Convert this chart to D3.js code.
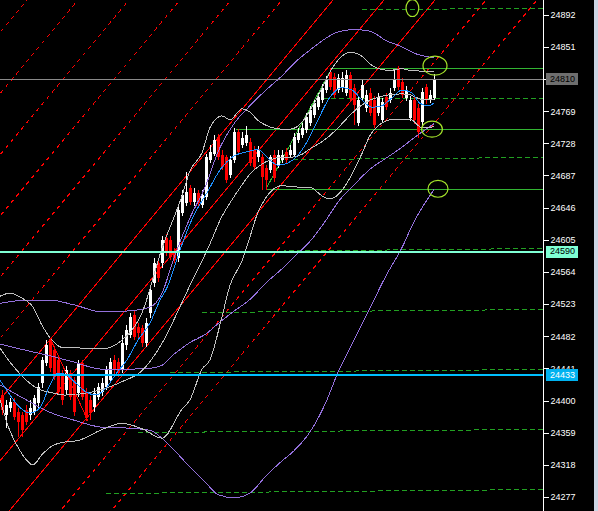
<!DOCTYPE html>
<html><head><meta charset="utf-8">
<script src="https://cdn.jsdelivr.net/npm/d3@7/dist/d3.min.js"></script>
<style>html,body{margin:0;padding:0;background:#000;overflow:hidden}svg{display:block}</style>
</head><body><svg id="c" width="598" height="511"></svg>
<script>
// ---------- DATA ----------
const open = [24407,24382,24390,24398,24385,24382,24388,24382,24385,24397,
24422,24448,24477,24464,24452,24435,24413,24435,24426,24410,
24448,24411,24401,24392,24404,24411,24417,24426,24452,24449,
24439,24471,24484,24509,24494,24492,24473,24512,24550,24575,
24575,24607,24605,24589,24582,24639,24652,24671,24653,24665,
24649,24660,24707,24715,24736,24713,24710,24688,24707,24742,
24726,24728,24730,24720,24710,24710,24697,24694,24713,24700,
24707,24717,24713,24713,24732,24739,24745,24754,24764,24774,
24783,24796,24819,24813,24796,24799,24792,24815,24799,24754,
24786,24773,24792,24783,24767,24758,24787,24783,24799,24824,
24806,24786,24760,24783,24773,24755,24800,24783,24786];
const close = [24388,24394,24398,24379,24373,24362,24373,24390,24403,24417,
24452,24471,24441,24430,24411,24401,24439,24404,24385,24448,
24404,24378,24384,24410,24417,24422,24439,24449,24439,24435,
24473,24490,24507,24481,24486,24473,24499,24541,24575,24556,
24605,24588,24583,24579,24643,24662,24666,24653,24665,24652,
24662,24711,24717,24732,24711,24698,24681,24707,24742,24717,
24735,24739,24703,24698,24720,24685,24681,24710,24684,24713,
24713,24707,24720,24736,24741,24748,24762,24770,24779,24787,
24799,24809,24800,24790,24811,24811,24815,24786,24777,24783,
24802,24790,24767,24751,24787,24781,24774,24792,24809,24800,
24790,24796,24783,24758,24742,24793,24783,24790,24810];
const high = [24413,24401,24403,24403,24390,24385,24394,24401,24407,24422,
24456,24477,24480,24470,24457,24439,24444,24439,24430,24452,
24452,24416,24406,24416,24422,24429,24444,24454,24458,24454,
24484,24496,24512,24515,24499,24496,24505,24546,24582,24582,
24610,24612,24610,24595,24649,24668,24691,24675,24671,24668,
24668,24715,24726,24739,24740,24720,24713,24712,24748,24746,
24742,24750,24735,24725,24724,24715,24700,24713,24720,24720,
24720,24722,24726,24741,24748,24754,24767,24776,24783,24792,
24804,24814,24824,24818,24816,24819,24822,24819,24804,24788,
24809,24796,24799,24788,24792,24786,24792,24799,24821,24827,
24811,24801,24788,24788,24778,24799,24804,24796,24816];
const low = [24382,24365,24385,24375,24354,24354,24369,24375,24382,24390,
24416,24444,24436,24426,24407,24394,24407,24401,24380,24404,
24401,24374,24375,24385,24401,24406,24413,24422,24434,24430,
24435,24464,24480,24477,24480,24468,24468,24505,24545,24551,
24569,24584,24579,24575,24577,24635,24648,24649,24648,24648,
24646,24656,24703,24712,24707,24694,24677,24684,24703,24713,
24722,24725,24699,24694,24704,24668,24668,24690,24679,24697,
24703,24703,24710,24710,24729,24735,24741,24750,24760,24770,
24779,24792,24796,24786,24792,24793,24788,24782,24751,24750,
24782,24768,24763,24747,24763,24754,24770,24779,24795,24796,
24786,24782,24756,24753,24735,24750,24778,24779,24783];

// Bollinger (gray)
const grayBars = [-0.5,2,4.5,7.75,10,12.5,15.5,19,25,30,35,40,45,47,50,52,55,57,60,62,64,70,72,75,77,80,82,85,87,90,92,95,97,100,102,105,108];
const grayUpper = [24533,24537,24532,24519,24496,24477,24467,24467,24466,24477,24512,24594,24661,24693,24716,24748,24763,24758,24772,24768,24757,24746,24746,24755,24770,24798,24819,24839,24844,24839,24829,24822,24821,24823,24821,24820,24819];
const grayMid = [24467,24449,24434,24419,24413,24410,24407,24408,24414,24424,24438,24473,24525,24547,24578,24600,24635,24652,24675,24689,24698,24710,24710,24714,24721,24730,24738,24753,24764,24777,24783,24788,24790,24791,24790,24784,24784];
const grayLower = [24401,24361,24336,24318,24331,24342,24347,24349,24363,24371,24364,24352,24389,24401,24440,24452,24507,24547,24578,24609,24640,24674,24673,24672,24672,24661,24657,24668,24684,24715,24738,24754,24758,24759,24759,24748,24749];

// long band (purple)
const purpleBars = [-0.5,6,12,18,25,31,37,40,43,47,51,54,58,62,66,70,73,77,81,84,88,92,96,100,103,108];
const purpleUpper = [24524,24528,24528,24522,24513,24514,24519,24537,24582,24633,24675,24717,24753,24776,24796,24814,24830,24847,24862,24870,24873,24871,24859,24851,24843,24837];
const purpleMid = [24472,24464,24457,24449,24440,24440,24441,24445,24459,24474,24485,24498,24514,24529,24550,24568,24583,24603,24630,24653,24675,24695,24709,24723,24735,24753];
const purpleLower = [24420,24401,24385,24375,24366,24365,24362,24352,24337,24315,24295,24280,24276,24282,24304,24323,24336,24360,24398,24436,24477,24518,24559,24595,24628,24669];

// fast MA (blue)
const blueBars = [-0.5,2,4.5,7,9.5,12,14,16,18.5,21,23.5,26,28.5,31.25,34,37,39.5,41.25,44.5,47.75,51.25,54.5,57.75,61,64,66.5,69,71.5,74,76.5,79,82,85,87.5,90,92.5,95,97.5,100,102.5,104.5,106.5,108];
const blueMA = [24426,24407,24391,24384,24391,24420,24435,24433,24422,24411,24407,24416,24434,24452,24477,24499,24528,24544,24592,24634,24665,24694,24711,24717,24720,24709,24700,24703,24713,24732,24758,24787,24799,24796,24783,24774,24776,24786,24796,24792,24779,24776,24779];

// diagonal grid (red): bar where each line crosses the reference level
const gridLevel = 24892;
const gridSlope = 6.12; // points per bar
const gridCross = [130.7,117.95,105.2,92.45,79.7,66.95,54.2,41.45,28.7,15.95,3.2,-9.55,-22.3,-35.05,-47.8,-60.55,-73.3,-86.05,-98.8,-111.55];
const gridSolid = [false,false,true,true,true,false,false,false,false,false,false,false,false,false,false,false,false,false,false,false];

// zigzag segment
const zigBars = [12, 21.5];
const zigPrices = [24480, 24374];

// green levels
const greenSolidStart = [82.5, 58.5, 66];
const greenSolidPrice = [24824, 24746, 24670];
const greenDiagBars = [66, 82.5];
const greenDiagPrices = [24670, 24824];
const greenDashStart = [90, 80.25, 72.75, 57.75, 50, 42, 34, 26];
const greenDashP0 = [24899, 24786, 24708, 24591, 24513, 24436, 24360, 24282];
const greenDashP1 = [24901, 24786, 24711, 24595, 24517, 24440, 24364, 24287];

// horizontal price lines
const priceLevels = [24810, 24590, 24433];
const priceLineColors = ["#8a8a8a", "#7fffd4", "#00bfff"];
const priceLineWidths = [1, 2, 2];
const priceLabelBg = ["#6e6e6e", "#7fffd4", "#00b2f0"];
const priceLabelFg = ["#000000", "#000000", "#ffffff"];

// ellipses (marks)
const ellBars = [102.6, 108.25, 107.5, 109];
const ellPrices = [24900.5, 24827, 24746, 24670];
const ellRxBars = [1.6, 3, 2.6, 2.5];
const ellRyPts = [10.8, 12.1, 10.2, 10.8];

// axis ticks
const tickValues = [24892,24851,24810,24769,24728,24687,24646,24605,24564,24523,24482,24441,24400,24359,24318,24277];

// ---------- DRAW ----------
const PW = 543;
const x = d3.scaleLinear().domain([-0.5, 135.25]).range([0, PW]);
const y = d3.scaleLinear().domain([24277, 24892]).range([497, 14.7]);

const svg = d3.select("#c");
svg.append("rect").attr("width", 598).attr("height", 511).attr("fill", "#000");
svg.append("rect").attr("x", 594).attr("width", 4).attr("height", 511).attr("fill", "#cdd6e4");

svg.append("defs").append("clipPath").attr("id", "plot")
  .append("rect").attr("x", 0).attr("y", 0).attr("width", PW).attr("height", 511);
const g = svg.append("g").attr("clip-path", "url(#plot)");

// red grid
gridCross.forEach((b0, k) => {
  const b1 = -250, b2 = 250;
  g.append("line")
    .attr("x1", x(b1)).attr("y1", y(gridLevel + gridSlope * (b1 - b0)))
    .attr("x2", x(b2)).attr("y2", y(gridLevel + gridSlope * (b2 - b0)))
    .attr("stroke", "#ff0000").attr("stroke-width", 1)
    .attr("shape-rendering", "crispEdges")
    .attr("stroke-dasharray", gridSolid[k] ? null : "4,4");
});

// green dashed levels
greenDashStart.forEach((b, k) => {
  g.append("line")
    .attr("x1", x(b)).attr("y1", Math.round(y(greenDashP0[k])) + 0.5)
    .attr("x2", PW).attr("y2", Math.round(y(greenDashP1[k])) + 0.5)
    .attr("stroke", "#22a022").attr("stroke-width", 1)
    .attr("shape-rendering", "crispEdges")
    .attr("stroke-dasharray", "5,3");
});
// green solid levels
greenSolidStart.forEach((b, k) => {
  const yy = Math.round(y(greenSolidPrice[k])) + 0.5;
  g.append("line").attr("x1", x(b)).attr("x2", PW).attr("y1", yy).attr("y2", yy)
    .attr("stroke", "#32b432").attr("stroke-width", 1).attr("shape-rendering", "crispEdges");
});
g.append("line")
  .attr("x1", x(greenDiagBars[0])).attr("y1", y(greenDiagPrices[0]))
  .attr("x2", x(greenDiagBars[1])).attr("y2", y(greenDiagPrices[1]))
  .attr("stroke", "#32b432").attr("stroke-width", 1).attr("shape-rendering", "crispEdges");

// candles
const idx = d3.range(open.length);
idx.forEach(i => {
  const cx = Math.round(x(i));
  const up = close[i] >= open[i];
  const col = up ? "#ffffff" : "#ff0000";
  g.append("line").attr("x1", cx + 0.5).attr("x2", cx + 0.5)
    .attr("y1", Math.round(y(high[i]))).attr("y2", Math.round(y(low[i])))
    .attr("stroke", col).attr("stroke-width", 1).attr("shape-rendering", "crispEdges");
  const yt = Math.round(y(Math.max(open[i], close[i])));
  const yb = Math.round(y(Math.min(open[i], close[i])));
  g.append("rect").attr("x", cx - 1).attr("y", yt).attr("width", 3)
    .attr("height", Math.max(1, yb - yt)).attr("fill", col);
});

// indicator lines
function drawLine(bars, vals, color) {
  const pts = bars.map((b, k) => [x(b), y(vals[k])]);
  g.append("path").attr("d", d3.line().curve(d3.curveMonotoneX)(pts))
    .attr("fill", "none").attr("stroke", color).attr("stroke-width", 1)
    .attr("shape-rendering", "crispEdges");
}
drawLine(purpleBars, purpleUpper, "#9370db");
drawLine(purpleBars, purpleMid, "#9370db");
drawLine(purpleBars, purpleLower, "#9370db");
drawLine(grayBars, grayUpper, "#c0c0c0");
drawLine(grayBars, grayMid, "#c0c0c0");
drawLine(grayBars, grayLower, "#c0c0c0");
drawLine(blueBars, blueMA, "#1e90ff");

// zigzag
g.append("path").attr("d", d3.line()(zigBars.map((b, k) => [x(b), y(zigPrices[k])])))
  .attr("fill", "none").attr("stroke", "#ff0000").attr("stroke-width", 1)
  .attr("shape-rendering", "crispEdges");

// horizontal price lines
priceLevels.forEach((v, k) => {
  const w = priceLineWidths[k];
  const yy = w % 2 ? Math.round(y(v)) + 0.5 : Math.round(y(v));
  g.append("line").attr("x1", 0).attr("x2", PW).attr("y1", yy).attr("y2", yy)
    .attr("stroke", priceLineColors[k]).attr("stroke-width", w).attr("shape-rendering", "crispEdges");
});

// ellipses
ellBars.forEach((b, k) => {
  g.append("ellipse").attr("cx", x(b)).attr("cy", y(ellPrices[k]))
    .attr("rx", x(b + ellRxBars[k]) - x(b))
    .attr("ry", y(ellPrices[k]) - y(ellPrices[k] + ellRyPts[k]))
    .attr("fill", "none").attr("stroke", "#a4e22a").attr("stroke-width", 1.2);
});

// axis
svg.append("line").attr("x1", PW + 0.5).attr("x2", PW + 0.5).attr("y1", 0).attr("y2", 511)
  .attr("stroke", "#ffffff").attr("stroke-width", 1).attr("shape-rendering", "crispEdges");
const axis = d3.axisRight(y).tickValues(tickValues).tickSize(5).tickSizeOuter(0).tickPadding(2)
  .tickFormat(d3.format("d"));
const ag = svg.append("g").attr("transform", `translate(${PW + 0.5},0)`).call(axis);
ag.select(".domain").remove();
ag.selectAll(".tick line").attr("stroke", "#ffffff").attr("shape-rendering", "crispEdges");
ag.selectAll(".tick text").attr("fill", "#ffffff")
  .style("font-family", "'Liberation Sans', Arial, sans-serif").style("font-size", "9px");

// price labels (drawn over the axis labels, as in the terminal)
priceLevels.forEach((v, k) => {
  const yy = y(v);
  svg.append("rect").attr("x", 546).attr("y", Math.round(yy) - 6).attr("width", 32).attr("height", 12)
    .attr("fill", priceLabelBg[k]);
  svg.append("text").attr("x", 550).attr("y", yy).attr("dy", "0.32em")
    .attr("fill", priceLabelFg[k])
    .style("font-family", "'Liberation Sans', Arial, sans-serif").style("font-size", "9px")
    .text(d3.format("d")(v));
});
</script>
</body></html>
